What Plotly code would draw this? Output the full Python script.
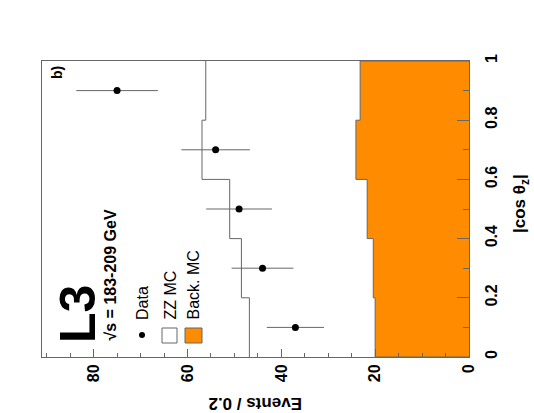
import plotly.graph_objects as go

# |cos theta_Z| binning (width 0.2)
bin_edges = [0.0, 0.2, 0.4, 0.6, 0.8, 1.0]
bin_centres = [0.1, 0.3, 0.5, 0.7, 0.9]

# Events / 0.2
data_events = [37, 44, 49, 54, 75]
data_errors = [6.1, 6.6, 7.0, 7.3, 8.7]
total_mc = [46.8, 48.5, 51.0, 56.9, 56.1]   # ZZ MC stacked on background
back_mc = [20.0, 20.4, 21.7, 24.1, 23.2]

events_ticks = [0, 20, 40, 60, 80]
cos_ticks = [0, 0.2, 0.4, 0.6, 0.8, 1]
cos_ticklabels = ["0", "0.2", "0.4", "0.6", "0.8", "1"]

W, H = 534, 413
L, R, T, B = 42, 65, 61, 56
FONT = "Liberation Sans"
GREY = "#666666"
ORANGE = "#ff8c00"


def px(x):
    return (x - L) / (W - L - R)


def py(y):
    return (H - B - y) / (H - T - B)


def steps(vals):
    xs, ys = [], []
    for i, v in enumerate(vals):
        xs += [v, v]
        ys += [bin_edges[i], bin_edges[i + 1]]
    return xs, ys


bx, by = steps(back_mc)
tx, ty = steps(total_mc)

fig = go.Figure()
# background MC, filled
fig.add_trace(go.Scatter(x=[0] + bx + [0], y=[bin_edges[0]] + by + [bin_edges[-1]],
                         mode="lines", fill="toself", fillcolor=ORANGE,
                         line=dict(color=GREY, width=1), hoverinfo="skip"))
# ZZ + background MC
fig.add_trace(go.Scatter(x=tx, y=ty, mode="lines",
                         line=dict(color=GREY, width=1), hoverinfo="skip"))
# data
fig.add_trace(go.Scatter(x=data_events, y=bin_centres, mode="markers",
                         marker=dict(color="black", size=7),
                         error_x=dict(type="data", array=data_errors, color=GREY,
                                      thickness=1, width=0)))

def txt(x, y, s, size, angle=-90, bold=False, xa="center", ya="bottom"):
    fig.add_annotation(x=px(x), y=py(y), xref="paper", yref="paper", text=s,
                       showarrow=False, textangle=angle, xanchor=xa, yanchor=ya,
                       font=dict(family=FONT, size=size, color="black",
                                 weight="bold" if bold else "normal"))

txt(78, 345, "L3", 50, bold=True)
txt(110, 343, "√s = 183-209 GeV", 16, bold=True)
txt(142, 322, "Data", 16)
txt(170, 322, "ZZ MC", 16)
txt(193, 322, "Back. MC", 16)
txt(57, 73, "b)", 14, bold=True, ya="middle")
txt(255, 404, "Events / 0.2", 17, angle=180, bold=True, ya="middle")
txt(521, 204, "|cos θ<sub>z</sub>|", 17, bold=True, ya="middle")

# legend symbols
fig.add_shape(type="circle", xref="paper", yref="paper",
              x0=px(139), x1=px(145), y0=py(338), y1=py(332),
              fillcolor="black", line=dict(width=0))
fig.add_shape(type="rect", xref="paper", yref="paper",
              x0=px(162), x1=px(177), y0=py(343), y1=py(328),
              fillcolor="white", line=dict(color=GREY, width=1))
fig.add_shape(type="rect", xref="paper", yref="paper",
              x0=px(185), x1=px(202), y0=py(343), y1=py(328),
              fillcolor=ORANGE, line=dict(color=GREY, width=1))

fig.update_layout(
    width=W, height=H,
    margin=dict(l=L, r=R, t=T, b=B),
    paper_bgcolor="white", plot_bgcolor="white",
    showlegend=False,
    font=dict(family=FONT, size=16, color="black"),
    xaxis=dict(range=[91, 0], tickvals=events_ticks, tickangle=-90,
               ticks="inside", ticklen=8, tickcolor=GREY,
               minor=dict(dtick=5, ticks="inside", ticklen=4, tickcolor=GREY),
               showline=True, mirror=True, linecolor=GREY, linewidth=1,
               showgrid=False, zeroline=False,
               tickfont=dict(family=FONT, size=16, weight="bold")),
    yaxis=dict(range=[0, 1], side="right", tickvals=cos_ticks, ticktext=cos_ticklabels,
               tickangle=-90, ticks="inside", ticklen=12, tickcolor=GREY,
               minor=dict(dtick=0.1, ticks="inside", ticklen=6, tickcolor=GREY),
               showline=True, mirror=True, linecolor=GREY, linewidth=1,
               showgrid=False, zeroline=False, ticklabelstandoff=8,
               tickfont=dict(family=FONT, size=16, weight="bold")),
)

# the page's default body margin would push the 534x413 figure off the window
fig.write_html("out.html", config={"displayModeBar": False},
               post_script="document.body.style.margin='0';document.body.style.overflow='hidden';")
